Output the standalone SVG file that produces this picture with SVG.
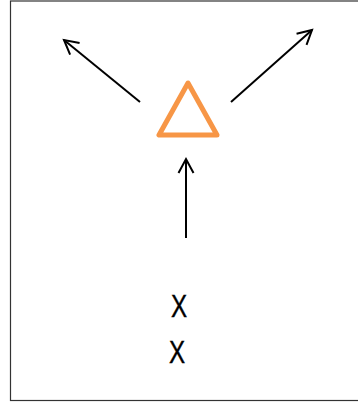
<svg xmlns="http://www.w3.org/2000/svg" width="358" height="403" viewBox="0 0 358 403">
<style>
.conn{stroke:#000;stroke-width:2;fill:none;marker-end:url(#ah)}
.lbl{font-family:"Liberation Sans",Arial,sans-serif;font-size:31px;fill:#000;stroke:#000;stroke-width:0.4}
</style>
<defs>
<marker id="ah" markerUnits="userSpaceOnUse" markerWidth="30" markerHeight="30" refX="15" refY="15" orient="auto" viewBox="0 0 30 30" overflow="visible">
<path d="M1,7.5 L15,15 L1,22.5" fill="none" stroke="#000" stroke-width="2"/>
</marker>
</defs>
<rect x="10.5" y="1" width="360" height="399.5" fill="#fff" stroke="#333" stroke-width="1.2"/>
<g id="connectors">
<line class="conn" x1="140" y1="102" x2="64" y2="40"/>
<line class="conn" x1="231" y1="102" x2="312" y2="30"/>
<line class="conn" x1="186" y1="238" x2="186" y2="159"/>
</g>
<g id="triangle">
<polygon points="188,83 159,135 217,135" fill="none" stroke="#F79646" stroke-width="5" stroke-linejoin="round"/>
</g>
<g id="label-x1">
<text class="lbl" text-anchor="middle" transform="translate(179,316.5) scale(0.78,1)">X</text>
</g>
<g id="label-x2">
<text class="lbl" text-anchor="middle" transform="translate(177,362.5) scale(0.78,1)">X</text>
</g>
</svg>
